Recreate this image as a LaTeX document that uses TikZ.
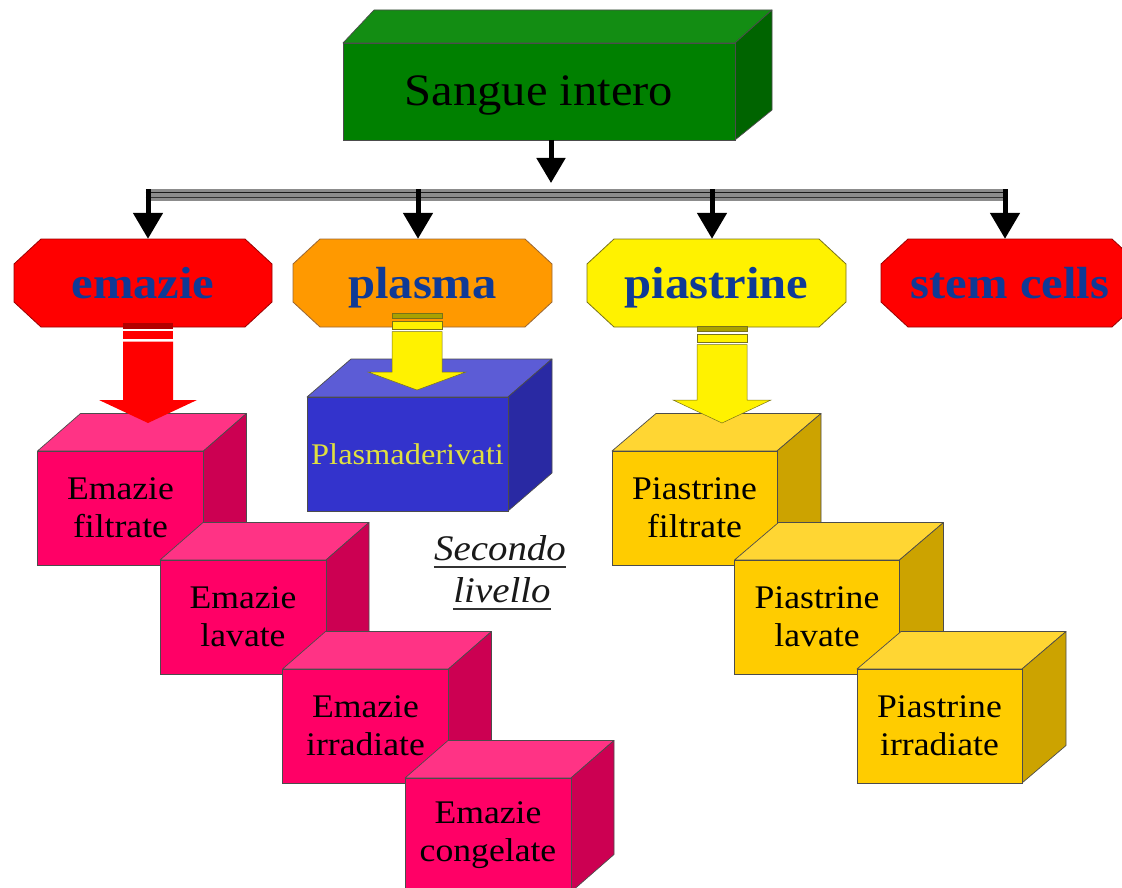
\documentclass[tikz,border=0pt]{standalone}
\usepackage{fontspec}
\setmainfont{Liberation Serif}[FakeStretch=1.08]
\usetikzlibrary{arrows.meta,calc}
\definecolor{gFront}{HTML}{008000}
\definecolor{gTop}{HTML}{138D13}
\definecolor{gSide}{HTML}{006400}
\definecolor{pkFront}{HTML}{FF0066}
\definecolor{pkTop}{HTML}{FF3385}
\definecolor{pkSide}{HTML}{CC0052}
\definecolor{yeFront}{HTML}{FFCC00}
\definecolor{yeTop}{HTML}{FFD633}
\definecolor{yeSide}{HTML}{CCA300}
\definecolor{blFront}{HTML}{3333CC}
\definecolor{blTop}{HTML}{5C5CD6}
\definecolor{blSide}{HTML}{2929A3}
\definecolor{octBlue}{HTML}{0F3A96}
\definecolor{plasmaOr}{HTML}{FF9900}
\definecolor{pdYellow}{HTML}{E0E040}
\definecolor{barGray}{HTML}{8C8C8C}

\newcommand\cubebox[9]{%
  \filldraw[fill=#8Top, cubeedge] (#2,#3) -- ++(#6,-#7) -- ++(#4,0) -- ++(-#6,#7) -- cycle;
  \filldraw[fill=#8Side, cubeedge] (#2+#4,#3) -- ++(#6,-#7) -- ++(0,#5) -- ++(-#6,#7) -- cycle;
  \node[cubefront, #8Txt, fill=#8Front, minimum width=#4pt, minimum height=#5pt, anchor=north west] (#1) at (#2,#3) {#9};
}
\newcommand\octo[4]{%
  \filldraw[fill=#3, draw=#4, line width=0.8pt] (#1+27,239) -- (#2-27,239) -- (#2,264) -- (#2,302) -- (#2-27,327) -- (#1+27,327) -- (#1,302) -- (#1,264) -- cycle;
}
\newcommand\blockarrow[6]{%
  \path[#6] (#1-25,#2) rectangle (#1+25,#2+5.5);
  \path[#5] (#1-25,#2+8) rectangle (#1+25,#2+16);
  \path[#5] (#1-25,#2+18.5) -- (#1+25,#2+18.5) -- (#1+25,#3) -- (#1+49,#3) -- (#1,#4) -- (#1-49,#3) -- (#1-25,#3) -- cycle;
}

\begin{document}
\begin{tikzpicture}[x=1pt,y=-1pt,
  cubeedge/.style={draw=black!70, line width=0.7pt, line join=round},
  cubefront/.style={draw=black!70, line width=0.7pt, inner sep=0pt, outer sep=0pt, align=center},
  pkTxt/.style={text=black, font=\fontsize{33}{38}\selectfont},
  yeTxt/.style={text=black, font=\fontsize{33}{38}\selectfont},
  blTxt/.style={text=pdYellow, font=\fontsize{30}{36}\selectfont},
  octtext/.style={font=\fontsize{45}{54}\selectfont\bfseries, text=octBlue, minimum width=258pt, minimum height=88pt, inner sep=0pt, text height=35pt, text depth=5pt},
  conn/.style={line width=5pt, black, -{Triangle[width=29pt,length=26pt]}},
  sectext/.style={font=\fontsize{36}{42}\selectfont\itshape, inner sep=0pt, text=black!90}
]
\useasboundingbox[fill=white] (0,0) rectangle (1122,888);

% top green box
\filldraw[fill=gTop, draw=black!70, line width=0.7pt, line join=round] (343,43) -- (374,10) -- (772,10) -- (735,43) -- cycle;
\filldraw[fill=gSide, draw=black!70, line width=0.7pt, line join=round] (735,43) -- (772,10) -- (772,110) -- (735,140) -- cycle;
\node[anchor=north west, minimum width=392pt, minimum height=97pt, inner sep=0pt, outer sep=0pt,
  fill=gFront, draw=black!70, line width=0.7pt, font=\fontsize{45}{54}\selectfont, text=black,
  text height=34pt, text depth=6pt] (sangue) at (343,43) {Sangue intero};

% distribution bar
\coordinate (barTop) at (551,183);
\coordinate (barL) at (148,195);
\coordinate (barP) at (418,195);
\coordinate (barQ) at (712,195);
\coordinate (barR) at (1005,195);
\draw[conn, -{Triangle[width=28pt,length=25pt]}] (sangue.south -| barTop) -- (barTop);
\draw[line width=12pt, barGray, shorten <=-2.5pt, shorten >=-2.5pt] (barL) -- (barR);
\draw[line width=1.8pt, black!90, shorten <=-2.5pt, shorten >=-2.5pt] ([yshift=2.5pt]barL) -- ([yshift=2.5pt]barR);
\draw[line width=1.5pt, black!80, shorten <=-2.5pt, shorten >=-2.5pt] ([yshift=-2.5pt]barL) -- ([yshift=-2.5pt]barR);

% octagons
\octo{14}{272}{red}{red!60!black}
\octo{293}{552}{plasmaOr}{brown!80!black}
\octo{587}{846}{yellow}{olive!80!black}
\octo{881}{1139}{red}{red!60!black}
\node[octtext] (emazie) at (143,283) {emazie};
\node[octtext] (plasma) at (422.5,283) {plasma};
\node[octtext] (piastrine) at (716.5,283) {piastrine};
\node[octtext] (stem) at (1010,283) {stem cells};

\draw[conn] ([yshift=6pt]barL) -- (barL |- emazie.north);
\draw[conn] ([yshift=6pt]barP) -- (barP |- plasma.north);
\draw[conn] ([yshift=6pt]barQ) -- (barQ |- piastrine.north);
\draw[conn] ([yshift=6pt]barR) -- (barR |- stem.north);

% plasma branch
\cubebox{pd}{307}{397}{201}{114}{44}{38}{bl}{Plasmaderivati}
\blockarrow{417}{313}{372}{390}{fill=yellow, draw=olive!80!black, line width=0.5pt}{fill=olive!75!yellow, draw=olive!80!black, line width=0.5pt}

% red cells branch
\cubebox{ef}{37.5}{451}{166}{114}{43}{37.5}{pk}{Emazie\\filtrate}
\cubebox{el}{160}{560}{166}{114}{43}{37.5}{pk}{Emazie\\lavate}
\cubebox{ei}{282.5}{669}{166}{114}{43}{37.5}{pk}{Emazie\\irradiate}
\cubebox{ec}{405}{778}{166}{114}{43}{37.5}{pk}{Emazie\\congelate}
\blockarrow{148}{323}{400}{423}{fill=red}{fill=red!70!black}

% platelets branch
\cubebox{pf}{612}{451}{165}{114}{44}{37.5}{ye}{Piastrine\\filtrate}
\cubebox{pl}{734.5}{560}{165}{114}{44}{37.5}{ye}{Piastrine\\lavate}
\cubebox{pi}{857}{669}{165}{114}{44}{37.5}{ye}{Piastrine\\irradiate}
\blockarrow{722}{326}{400}{423}{fill=yellow, draw=olive!80!black, line width=0.5pt}{fill=olive!75!yellow, draw=olive!80!black, line width=0.5pt}

% second level label
\node[sectext, anchor=base] (sec1) at (500,560) {Secondo};
\node[sectext, anchor=base] (sec2) at (502,602) {livello};
\draw[line width=1.5pt, black!80] ([yshift=-7pt]sec1.base west) -- ([yshift=-7pt]sec1.base east);
\draw[line width=1.5pt, black!80] ([yshift=-7pt]sec2.base west) -- ([yshift=-7pt]sec2.base east);
\end{tikzpicture}
\end{document}
